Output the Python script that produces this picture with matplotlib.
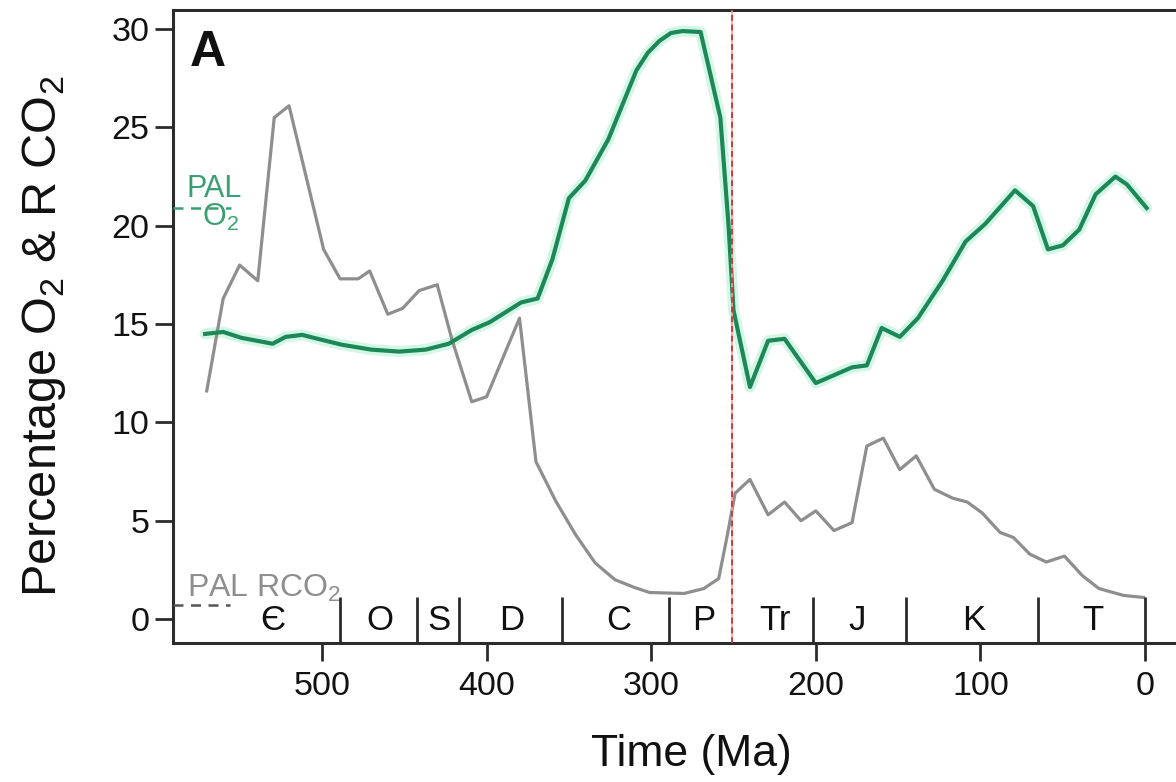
#!/usr/bin/env python3
"""
Phanerozoic O2 and RCO2 (panel A).
Saves: out.png
"""

import matplotlib
matplotlib.use("Agg")
import matplotlib.pyplot as plt

OUT_PATH = "out.png"

# ── Data ───────────────────────────────────────────────────────────────────
o2_age = [571, 560, 549, 530, 522, 512, 505, 488, 470, 453,
          437, 423, 409, 398, 379, 369, 360, 350, 340, 326,
          309, 302, 295, 288, 281, 270, 258, 253, 250, 240,
          229, 219, 200, 178, 169, 160, 149, 138, 123, 109,
          97, 79, 68, 59, 50, 40, 30, 18, 11, -1]
o2_pct = [14.5, 14.6, 14.3, 14.0, 14.35, 14.45, 14.3, 13.95, 13.7, 13.6,
          13.7, 14.0, 14.7, 15.1, 16.1, 16.3, 18.3, 21.4, 22.3, 24.4,
          27.9, 28.8, 29.4, 29.8, 29.9, 29.85, 25.5, 20.0, 15.7, 11.8,
          14.15, 14.25, 12.0, 12.8, 12.9, 14.8, 14.35, 15.3, 17.2, 19.2,
          20.1, 21.8, 21.0, 18.8, 19.0, 19.8, 21.6, 22.5, 22.1, 20.9]

rco2_age = [570, 560, 550, 539, 529, 520, 499, 489, 478, 471,
            460, 451, 441, 430, 421, 409, 400, 380, 370, 358,
            346, 334, 322, 310, 301, 280, 268, 259, 254, 249,
            240, 229, 219, 209, 200, 189, 178, 169, 159, 149,
            139, 128, 117, 108, 99, 88, 80, 70, 60, 49,
            38, 28, 13, 1]
rco2_val = [11.6, 16.3, 18.0, 17.2, 25.5, 26.1, 18.8, 17.3, 17.3, 17.7,
            15.5, 15.8, 16.7, 17.0, 14.2, 11.05, 11.3, 15.3, 8.0, 6.0,
            4.3, 2.85, 2.0, 1.6, 1.35, 1.3, 1.55, 2.06, 4.16, 6.4,
            7.1, 5.3, 5.95, 5.0, 5.5, 4.5, 4.9, 8.8, 9.2, 7.6,
            8.3, 6.6, 6.15, 5.95, 5.4, 4.4, 4.15, 3.3, 2.9, 3.2,
            2.2, 1.55, 1.2, 1.1]

pal_o2 = 20.9
pal_rco2 = 0.7
ptr_boundary = 251

period_names = ["Є", "O", "S", "D", "C", "P", "Tr", "J", "K", "T"]
period_label_age = [530, 465, 429, 385, 320, 268, 225, 175, 104, 32]
period_bounds = [489, 442, 417, 354, 289, 202, 145, 65, 0]

x_ticks = [500, 400, 300, 200, 100, 0]
y_ticks = [0, 5, 10, 15, 20, 25, 30]

# ── Style ──────────────────────────────────────────────────────────────────
GREEN      = "#1d8857"
GREEN_GLOW = "#c6f3de"
GREEN_TEXT = "#3a9f72"
GREY       = "#8e8e8e"
RED        = "#d23a3a"
INK        = "#2b2b2b"

plt.rcParams["font.family"] = ["Liberation Sans", "DejaVu Sans"]


def main():
    fig = plt.figure(figsize=(11.76, 7.82), dpi=100)
    ax = fig.add_axes([0.1471, 0.1777, 0.8529, 0.8095])

    ax.set_xlim(590.5, -18.8)
    ax.set_ylim(-1.22, 30.97)

    # ── Curves ────────────────────────────────────────────────────────
    ax.plot(rco2_age, rco2_val, color=GREY, lw=2.3, zorder=3)
    ax.plot(o2_age, o2_pct, color=GREEN_GLOW, lw=8, alpha=0.75,
            solid_capstyle="round", zorder=2)
    ax.plot(o2_age, o2_pct, color=GREEN, lw=3.0, zorder=4)

    # ── P/Tr boundary ─────────────────────────────────────────────────
    ax.axvline(ptr_boundary, color="#f3a0a0", lw=1.2, zorder=5)
    ax.axvline(ptr_boundary, color=RED, lw=1.4, ls=(0, (3, 2)), zorder=6)

    # ── PAL markers ───────────────────────────────────────────────────
    ax.plot([590.5, 555], [pal_o2, pal_o2], color=GREEN_TEXT, lw=1.8,
            ls=(0, (4, 3)), zorder=3)
    ax.text(582, 21.45, "PAL", color=GREEN_TEXT, fontsize=22,
            ha="left", va="baseline")
    ax.text(573, 21.2, "O$_\\mathregular{2}$", color=GREEN_TEXT,
            fontsize=22, ha="left", va="top")
    ax.plot([590.5, 556], [pal_rco2, pal_rco2], color="#555555", lw=1.8,
            ls=(0, (4, 3)), zorder=3)
    ax.text(582, 1.15, "PAL RCO$_\\mathregular{2}$", color=GREY,
            fontsize=23, ha="left", va="baseline")

    # ── Geological periods ────────────────────────────────────────────
    ax.vlines(period_bounds, -1.22, 1.1, color=INK, lw=2.0, zorder=3)
    for name, age in zip(period_names, period_label_age):
        ax.text(age, -0.05, name, fontsize=25, color="#111111",
                ha="center", va="center", zorder=4)

    # ── Axes, ticks, labels ───────────────────────────────────────────
    for side in ("left", "bottom", "top"):
        ax.spines[side].set_linewidth(2.2)
        ax.spines[side].set_color(INK)
    ax.spines["right"].set_visible(False)

    ax.set_xticks(x_ticks)
    ax.set_yticks(y_ticks)
    ax.tick_params(axis="both", direction="out", length=13, width=2,
                   color=INK, labelsize=24.5, labelcolor="#111111")
    ax.tick_params(axis="y", pad=4)
    ax.tick_params(axis="x", pad=7)

    ax.set_xlabel("Time (Ma)", fontsize=32, color="#111111")
    ax.xaxis.set_label_coords(0.517, -0.143)
    ax.set_ylabel("Percentage O$_\\mathregular{2}$ & R CO$_\\mathregular{2}$",
                  fontsize=35, color="#111111")
    ax.yaxis.set_label_coords(-0.105, 0.485)

    ax.text(0.017, 0.968, "A", transform=ax.transAxes, fontsize=36,
            fontweight="bold", ha="left", va="top", color="#111111")

    fig.savefig(OUT_PATH, dpi=100)
    plt.close(fig)


if __name__ == "__main__":
    main()
